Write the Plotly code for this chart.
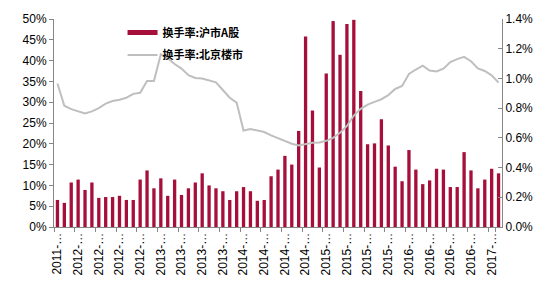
import plotly.graph_objects as go
import pandas as pd

months = [str(p) for p in pd.period_range("2011-12", periods=65, freq="M")]

sh_turnover = [6.5, 5.8, 10.7, 11.4, 8.9, 10.7, 7.0, 7.2, 7.2, 7.5, 6.5, 6.5, 11.4, 13.6, 9.3,
               11.7, 7.5, 11.4, 7.7, 9.3, 10.7, 12.9, 10.0, 9.3, 8.6, 6.5, 8.6, 9.6, 8.6, 6.3,
               6.5, 12.2, 13.8, 17.1, 15.0, 23.1, 45.8, 28.0, 14.3, 36.9, 49.5, 41.4, 48.8, 49.8,
               32.7, 19.9, 20.1, 25.9, 19.6, 14.5, 11.0, 18.5, 13.8, 10.3, 11.2, 14.0, 13.8, 9.6,
               9.6, 18.0, 13.6, 9.3, 11.4, 14.0, 12.9]

bj_turnover = [0.966, 0.816, 0.793, 0.778, 0.765, 0.778, 0.80, 0.83, 0.848, 0.857, 0.87, 0.896,
               0.903, 0.983, 0.983, 1.162, 1.136, 1.097, 1.066, 1.022, 1.003, 0.999, 0.988, 0.974,
               0.922, 0.87, 0.837, 0.649, 0.66, 0.652, 0.639, 0.617, 0.597, 0.576, 0.56, 0.549,
               0.56, 0.567, 0.569, 0.58, 0.60, 0.634, 0.68, 0.75, 0.795, 0.824, 0.842, 0.86, 0.888,
               0.929, 0.949, 1.03, 1.06, 1.086, 1.053, 1.047, 1.066, 1.11, 1.13, 1.145, 1.116,
               1.068, 1.05, 1.021, 0.972]

tick_vals = months[::3]
tick_text = [m[:4] + "-…" for m in tick_vals]

name_sh = "换手率:沪市A股"
name_bj = "换手率:北京楼市"

BAR_COLOR = "#A50F3A"
LINE_COLOR = "#BFBFBF"
AXIS_COLOR = "#868686"
FONT = "Liberation Sans, Arial, sans-serif"
LEG_FONT = dict(family="Noto Sans CJK SC", size=11, color="#000000", weight="bold")

fig = go.Figure()
fig.add_trace(go.Bar(x=months, y=sh_turnover, marker_color=BAR_COLOR, marker_line_width=0,
                     showlegend=False, yaxis="y"))
# legend entry for the bars (drawn as a thick bar swatch like the original)
fig.add_trace(go.Scatter(x=[None], y=[None], mode="lines", name=name_sh,
                         line=dict(color=BAR_COLOR, width=5), yaxis="y", legend="legend"))
fig.add_trace(go.Scatter(x=months, y=bj_turnover, mode="lines", name=name_bj,
                         line=dict(color=LINE_COLOR, width=2), yaxis="y2", legend="legend2"))

fig.update_layout(
    width=553, height=288,
    margin=dict(l=54, r=51, t=13, b=61),
    paper_bgcolor="white", plot_bgcolor="white",
    bargap=0.52,
    font=dict(family=FONT, size=12, color="#000000"),
    showlegend=True,
    legend=dict(x=0.153, y=1.005, xanchor="left", yanchor="top",
                bgcolor="rgba(0,0,0,0)", font=LEG_FONT),
    legend2=dict(x=0.153, y=0.897, xanchor="left", yanchor="top",
                 bgcolor="rgba(0,0,0,0)", font=LEG_FONT),
    xaxis=dict(type="category", range=[-0.5, len(months) - 0.5],
               tickmode="array", tickvals=tick_vals, ticktext=tick_text,
               tickangle=-90, tickson="boundaries", ticks="outside", ticklen=4,
               tickcolor=AXIS_COLOR, showline=True, linecolor=AXIS_COLOR, linewidth=1,
               showgrid=False, tickfont=dict(size=12, color="#000000")),
    yaxis=dict(range=[0, 50], dtick=5, ticksuffix="%", showgrid=False, zeroline=False,
               showline=True, linecolor=AXIS_COLOR, ticks="outside", ticklen=4,
               tickcolor=AXIS_COLOR, tickfont=dict(size=12, color="#000000")),
    yaxis2=dict(range=[0, 1.4], dtick=0.2, tickformat=".1f", ticksuffix="%",
                overlaying="y", side="right", showgrid=False, zeroline=False,
                showline=True, linecolor=AXIS_COLOR, ticks="inside", ticklen=4,
                tickcolor=AXIS_COLOR, tickfont=dict(size=12, color="#000000")),
)

fig.write_html("out.html")
